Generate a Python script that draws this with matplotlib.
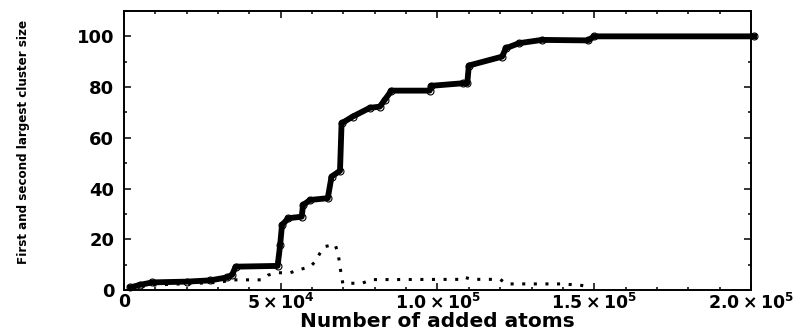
import matplotlib
matplotlib.use('Agg')
import matplotlib.pyplot as plt
from matplotlib.ticker import MultipleLocator

plt.rcParams['mathtext.fontset'] = 'dejavusans'

# largest cluster vs. number of added atoms
atoms_first = [2000, 5000, 9000, 20000, 27500, 33000, 34500, 35600, 49000, 49800,
               50400, 52400, 56700, 57100, 59400, 65000, 66200, 68900, 69400, 73000,
               78400, 81600, 83200, 85300, 97500, 98000, 108000, 109500, 110000, 120600,
               121800, 126000, 133300, 148000, 150000, 201000]
size_first = [1.0, 2.0, 3.0, 3.3, 3.8, 5.0, 6.0, 9.2, 9.5, 17.7,
              25.6, 28.3, 28.9, 33.5, 35.5, 36.2, 44.7, 47.0, 65.7, 68.4,
              71.8, 72.3, 75.0, 78.6, 78.6, 80.5, 81.5, 81.5, 88.5, 92.0,
              95.3, 97.3, 98.6, 98.4, 100.0, 100.0]

# second largest cluster
atoms_second = [2000, 10000, 30000, 35000, 44000, 46000, 49000, 53000, 55600, 59400,
                61000, 62500, 64000, 67300, 68300, 68900, 69400, 69800, 76000, 79000,
                108000, 108600, 111000, 120000, 122000, 140000, 146000, 149000]
size_second = [1.0, 2.0, 3.0, 4.0, 4.0, 5.9, 6.8, 6.8, 7.9, 9.2,
               11.2, 14.5, 17.1, 18.0, 14.5, 9.2, 5.3, 2.6, 2.7, 4.1,
               4.2, 5.0, 4.2, 4.2, 2.4, 2.4, 1.8, 1.0]

xticks = [0, 50000, 100000, 150000, 200000]
xticklabels = ['0', r'$\mathbf{5\times10^4}$', r'$\mathbf{1.0\times10^5}$',
               r'$\mathbf{1.5\times10^5}$', r'$\mathbf{2.0\times10^5}$']
yticks = [0, 20, 40, 60, 80, 100]

fig = plt.figure(figsize=(8.11, 3.30), dpi=100)
ax = fig.add_axes([0.1529, 0.1212, 0.7731, 0.8455])

ax.plot(atoms_second, size_second, color='k', lw=2.2,
        linestyle=(0, (1, 2.8)), dash_capstyle='butt', zorder=2)
ax.plot(atoms_first, size_first, '-o', color='k', lw=4.2,
        ms=5.0, mfc='none', mec='k', mew=0.8, zorder=3, clip_on=False)

ax.set_xlim(0, 200000)
ax.set_ylim(0, 110)
ax.set_xticks(xticks)
ax.set_xticklabels(xticklabels)
ax.set_yticks(yticks)
ax.xaxis.set_minor_locator(MultipleLocator(10000))
ax.yaxis.set_minor_locator(MultipleLocator(10))

ax.tick_params(which='both', direction='in', top=True, right=True, width=1.1)
ax.tick_params(which='major', length=5)
ax.tick_params(which='minor', length=2.5)
ax.tick_params(axis='y', which='major', pad=7, labelsize=13)
ax.tick_params(axis='x', which='major', pad=2, labelsize=12.5)
for lab in ax.get_yticklabels() + ax.get_xticklabels():
    lab.set_fontweight('bold')
for sp in ax.spines.values():
    sp.set_linewidth(1.4)

ax.set_xlabel('Number of added atoms', fontsize=14.5, fontweight='bold')
ax.xaxis.set_label_coords(0.5, -0.08)
ax.set_ylabel('First and second largest cluster size', fontsize=9.5,
              fontweight='bold', family='DejaVu Sans', fontstretch='condensed')
ax.yaxis.set_label_coords(-0.15, 0.53)

fig.savefig('out.png', dpi=100)
